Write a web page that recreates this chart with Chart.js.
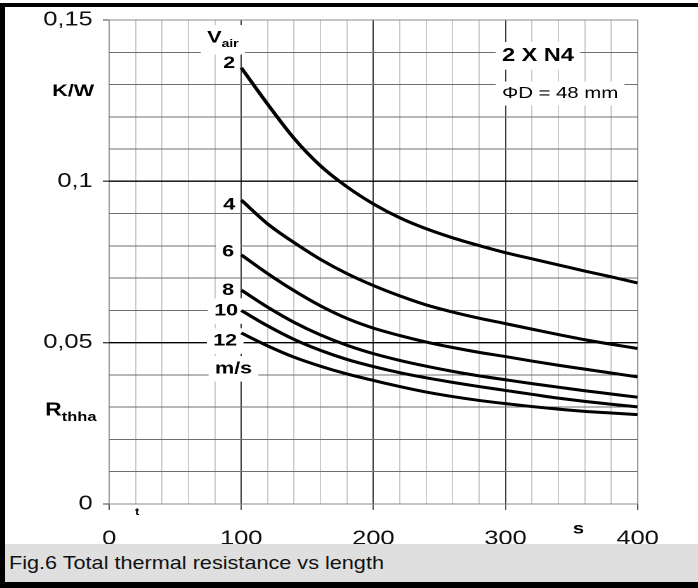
<!DOCTYPE html>
<html>
<head>
<meta charset="utf-8">
<script src="https://cdn.jsdelivr.net/npm/chart.js@4.4.1/dist/chart.umd.min.js"></script>
<style>
  html, body { margin: 0; padding: 0; background: #fff; }
  #page { position: relative; width: 698px; height: 588px; overflow: hidden; background: #fff;
          font-family: "Liberation Sans", Arial, sans-serif; }
  /* the original figure is stretched sideways, so the chart is drawn narrow and scaled */
  #plot { position: absolute; left: 0; top: 0; width: 550px; height: 544px;
          transform: scaleX(1.2691); transform-origin: 0 0; }
  #caption { position: absolute; left: 5px; top: 544px; width: 693px; height: 38px; background: #dfdfdf;
             font-size: 18.5px; line-height: 38px; padding-left: 4px; box-sizing: border-box; color: #111; }
  #caption span { display: inline-block; transform: scaleX(1.17); transform-origin: 0 50%; white-space: nowrap; }
  #frame { position: absolute; left: 0; top: 3px; width: 698px; height: 585px; box-sizing: border-box;
           border-top: 4px solid #000; border-left: 5px solid #000; border-bottom: 6px solid #000; }
</style>
</head>
<body>
<div id="page">
  <div id="plot"><canvas id="chart"></canvas></div>
  <div id="caption"><span>Fig.6 Total thermal resistance vs length</span></div>
  <div id="frame"></div>
</div>
<script>
// heatsink length s (mm) at which the curves were read
const lengths = [100, 120, 140, 160, 180, 200, 220, 240, 260, 280, 300, 320, 340, 360, 380, 400];

// R_thha (K/W) per air speed
const airSpeeds = [2, 4, 6, 8, 10, 12];
const rth2  = [0.1352, 0.1239, 0.1133, 0.1048, 0.0983, 0.0930, 0.0887, 0.0853, 0.0825, 0.0801, 0.0779, 0.0760, 0.0741, 0.0722, 0.0704, 0.0685];
const rth4  = [0.0942, 0.0868, 0.0810, 0.0758, 0.0714, 0.0677, 0.0645, 0.0617, 0.0595, 0.0576, 0.0559, 0.0542, 0.0525, 0.0509, 0.0495, 0.0482];
const rth6  = [0.0772, 0.0714, 0.0661, 0.0614, 0.0575, 0.0545, 0.0522, 0.0502, 0.0485, 0.0470, 0.0457, 0.0443, 0.0430, 0.0418, 0.0406, 0.0394];
const rth8  = [0.0663, 0.0610, 0.0563, 0.0524, 0.0492, 0.0466, 0.0445, 0.0427, 0.0411, 0.0397, 0.0385, 0.0373, 0.0362, 0.0351, 0.0341, 0.0331];
const rth10 = [0.0600, 0.0552, 0.0510, 0.0476, 0.0448, 0.0426, 0.0407, 0.0391, 0.0377, 0.0364, 0.0352, 0.0340, 0.0328, 0.0318, 0.0309, 0.0301];
const rth12 = [0.0530, 0.0490, 0.0455, 0.0427, 0.0403, 0.0383, 0.0364, 0.0347, 0.0333, 0.0321, 0.0311, 0.0302, 0.0294, 0.0287, 0.0282, 0.0277];
const series = [rth2, rth4, rth6, rth8, rth10, rth12];

// axis ticks
const xMin = 0, xMax = 400, xStep = 20, xLabelEvery = 100;
const yMin = 0, yMax = 0.15, yStep = 0.01;
const yLabels = ["0", "0,05", "0,1", "0,15"];

const FONT = '"Liberation Sans", Arial, sans-serif';

// text written on the figure (anchored in data units)
const notes = [
  { text: "V", sub: "air", x: 74.2, y: 0.1445, align: "left", size: 17, subSize: 11, box: true },
  { text: "2", x: 95.4, y: 0.1365, align: "right", size: 17 },
  { text: "4", x: 95.4, y: 0.0927, align: "right", size: 17 },
  { text: "6", x: 94.6, y: 0.0782, align: "right", size: 17, box: true },
  { text: "8", x: 94.6, y: 0.0662, align: "right", size: 17 },
  { text: "10", x: 97.6, y: 0.0598, align: "right", size: 17, box: true },
  { text: "12", x: 96.9, y: 0.0505, align: "right", size: 17, box: true },
  { text: "m/s", x: 108.2, y: 0.0419, align: "right", size: 17, box: true },
  { text: "2 X N4", x: 297.4, y: 0.1389, align: "left", size: 18.5, box: true },
  { text: "\u03A6D = 48 mm", x: 297.4, y: 0.1272, align: "left", size: 16, bold: false, box: true },
  { text: "K/W", x: -11.4, y: 0.1279, align: "right", size: 17 },
  { text: "R", sub: "thha", x: -48.4, y: 0.0290, align: "left", size: 18, subSize: 13 },
  { text: "t", x: 21.2, y: -0.0025, align: "center", size: 10 },
  { text: "s", x: 355.3, y: -0.0077, align: "center", size: 16 }
];

const notePlugin = {
  id: "notes",
  beforeDatasetsDraw(chart) {
    const { ctx, scales: { x, y } } = chart;
    ctx.save();
    ctx.textBaseline = "middle";
    notes.forEach((n) => {
      const weight = n.bold === false ? "" : "bold ";
      const mainFont = weight + n.size + "px " + FONT;
      const subFont = "bold " + (n.subSize || 10) + "px " + FONT;
      ctx.font = mainFont;
      let w = ctx.measureText(n.text).width;
      let subW = 0;
      if (n.sub) {
        ctx.font = subFont;
        subW = ctx.measureText(n.sub).width;
        w += subW;
      }
      const px = x.getPixelForValue(n.x);
      const py = y.getPixelForValue(n.y);
      let left = px;
      if (n.align === "right") left = px - w;
      if (n.align === "center") left = px - w / 2;
      if (n.box) {
        ctx.fillStyle = "#fff";
        ctx.fillRect(left - 5, py - n.size * 0.75, w + 10, n.size * 1.5 + (n.sub ? 4 : 0));
      }
      ctx.fillStyle = "#000";
      ctx.textAlign = "left";
      ctx.font = mainFont;
      const mainW = w - subW;
      ctx.fillText(n.text, left, py);
      if (n.sub) {
        ctx.font = subFont;
        ctx.fillText(n.sub, left + mainW, py + n.size * 0.38);
      }
    });
    ctx.restore();
  }
};

const yKey = (v) => Math.round(v * 100);

new Chart(document.getElementById("chart").getContext("2d"), {
  type: "line",
  data: {
    datasets: series.map((vals, i) => ({
      label: airSpeeds[i] + " m/s",
      data: lengths.map((s, j) => ({ x: s, y: vals[j] })),
      borderColor: "#000",
      borderWidth: 3,
      pointRadius: 0,
      fill: false,
      cubicInterpolationMode: "monotone"
    }))
  },
  options: {
    responsive: true,
    maintainAspectRatio: false,
    animation: false,
    devicePixelRatio: 2,
    layout: { padding: { top: 17, right: 47.6, bottom: 0, left: 0 } },
    plugins: { legend: { display: false }, tooltip: { enabled: false } },
    scales: {
      x: {
        type: "linear",
        min: xMin,
        max: xMax,
        border: { display: false },
        afterFit: (s) => { s.height = 40; },
        ticks: {
          stepSize: xStep,
          autoSkip: false,
          maxRotation: 0,
          padding: 17,
          color: "#111",
          font: { family: FONT, size: 20 },
          callback: (v) => (v % xLabelEvery === 0 ? String(v) : "")
        },
        grid: {
          tickLength: 6,
          color: (c) => {
            const v = c.tick.value;
            if (v === xMin || v === xMax) return "#9a9a9a";
            return v % xLabelEvery === 0 ? "#3a3a3a" : "#cacaca";
          },
          tickColor: (c) => (c.tick.value % xLabelEvery === 0 ? "#555" : "rgba(0,0,0,0)")
        }
      },
      y: {
        type: "linear",
        min: yMin,
        max: yMax,
        border: { display: false },
        afterFit: (s) => { s.width = 86; },
        ticks: {
          stepSize: yStep,
          autoSkip: false,
          padding: 8,
          color: "#111",
          font: { family: FONT, size: 20 },
          callback: (v) => {
            const k = yKey(v);
            return k % 5 === 0 ? yLabels[k / 5] : "";
          }
        },
        grid: {
          tickLength: 5,
          color: (c) => {
            const k = yKey(c.tick.value);
            if (k === 0 || k === 15) return "#8a8a8a";
            return k % 5 === 0 ? "#000" : "#6e6e6e";
          },
          lineWidth: (c) => {
            const k = yKey(c.tick.value);
            return k % 5 === 0 && k > 0 && k < 15 ? 1.4 : 1;
          },
          tickColor: (c) => (yKey(c.tick.value) % 5 === 0 ? "#444" : "rgba(0,0,0,0)")
        }
      }
    }
  },
  plugins: [notePlugin]
});
</script>
</body>
</html>
